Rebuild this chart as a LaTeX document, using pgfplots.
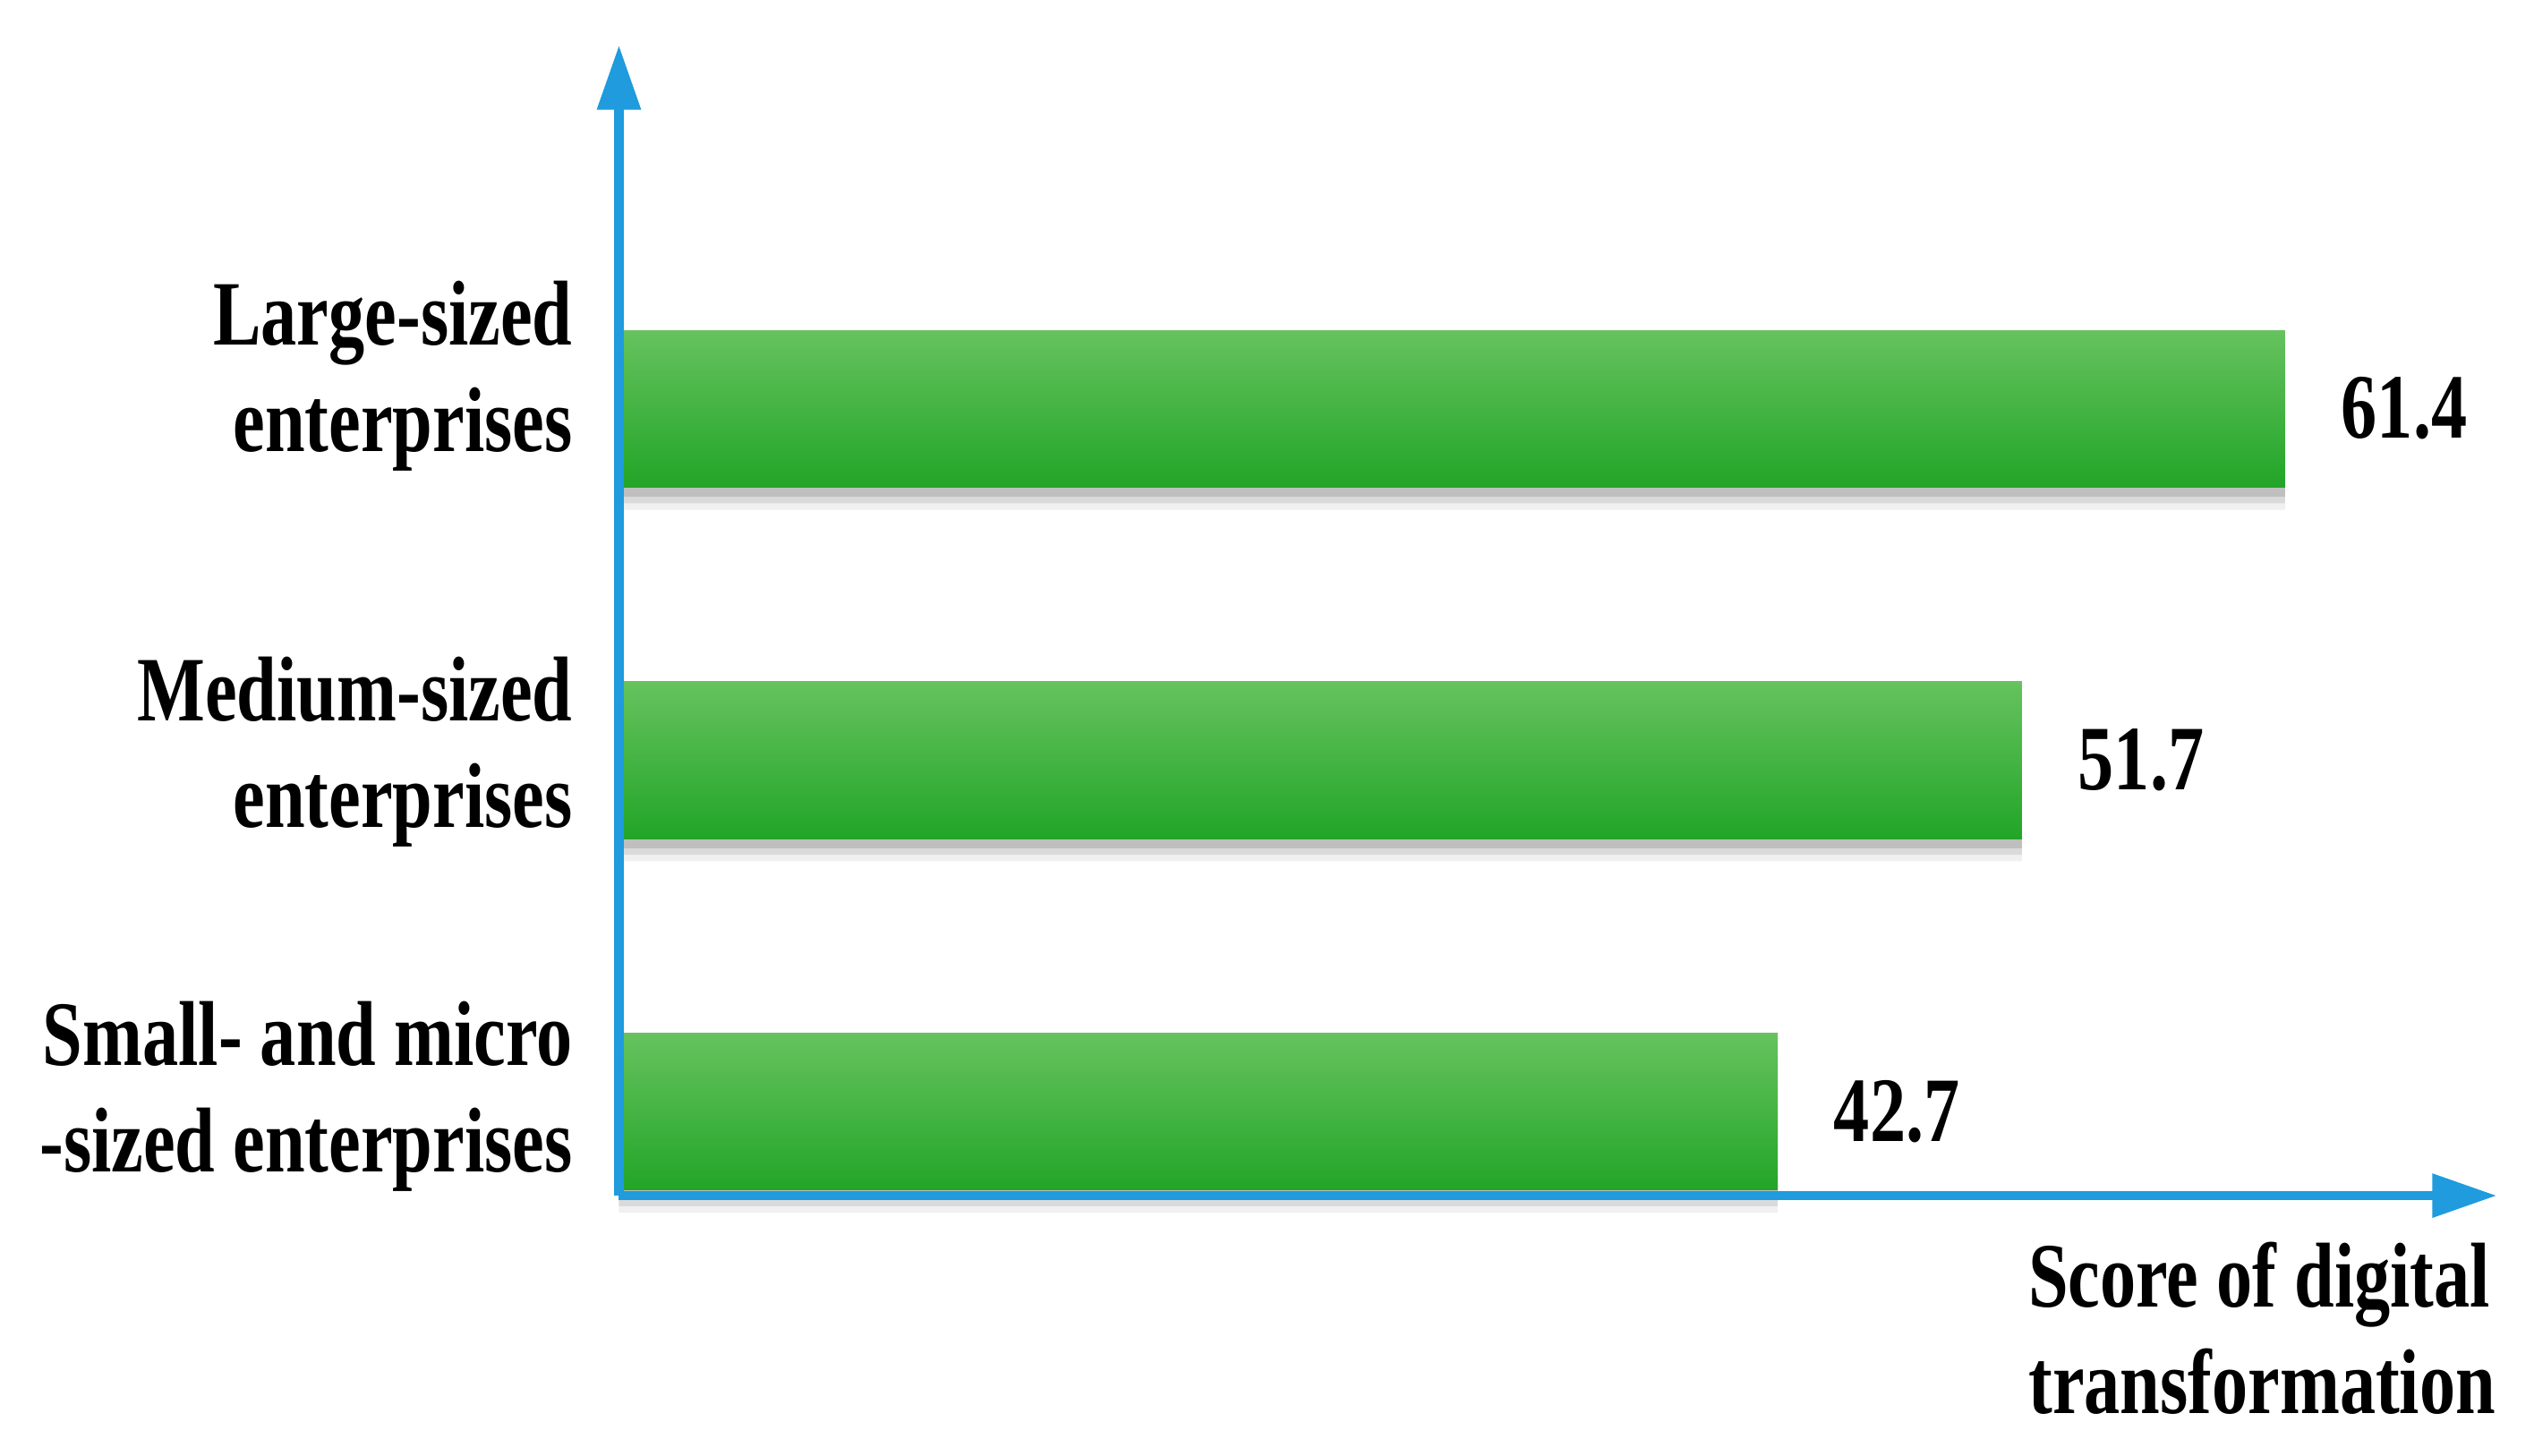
\documentclass[border=0pt]{standalone}
\usepackage{fontspec}
\setmainfont{Liberation Serif}[FakeStretch=0.78]
\usepackage{pgfplots}
\pgfplotsset{compat=1.18}
\usetikzlibrary{arrows.meta}
\definecolor{axblue}{HTML}{1F9BDE}
\definecolor{bartop}{HTML}{66C25E}
\definecolor{barbot}{HTML}{22A528}
\newcommand{\lblfont}{\fontsize{14.25}{16.5}\selectfont\bfseries}

\begin{document}
\begin{tikzpicture}
\begin{axis}[
  at={(0,0)}, anchor=south west,
  scale only axis, width=290.5pt, height=178pt,
  xmin=0, xmax=69.2, ymin=0.761, ymax=4.034,
  clip=false,
  axis lines=left,
  axis line style={axblue, line width=1.4pt, -{Triangle[length=10pt,width=6.5pt]}},
  xtick=\empty,
  ytick={0.989,1.968,3.037},
  yticklabels={{Small- and micro\\-sized enterprises},{Medium-sized\\enterprises},{Large-sized\\enterprises}},
  major tick length=0pt,
  yticklabel style={align=right, inner sep=0pt, xshift=-7pt, yshift=3pt, font=\lblfont},
  xbar, bar width=0.446, bar shift=0pt,
  axis on top,
  every node near coord/.style={anchor=west, inner sep=0pt, xshift=8.5pt, font=\lblfont, text=black},
]
% soft shadow under the bars
\addplot[draw=none, fill=black, fill opacity=0.06, bar shift=-3.5pt] coordinates {(42.7,1) (51.7,2) (61.4,3)};
\addplot[draw=none, fill=black, fill opacity=0.09, bar shift=-2.5pt] coordinates {(42.7,1) (51.7,2) (61.4,3)};
\addplot[draw=none, fill=black, fill opacity=0.12, bar shift=-1.5pt] coordinates {(42.7,1) (51.7,2) (61.4,3)};
% scores of digital transformation, one plot per bar so each gets its own gradient
\addplot[draw=none, top color=bartop, bottom color=barbot,
  nodes near coords={\pgfmathprintnumber[fixed,fixed zerofill,precision=1,assume math mode=true]{\pgfplotspointmeta}}]
  coordinates {(42.7,1)};
\addplot[draw=none, top color=bartop, bottom color=barbot,
  nodes near coords={\pgfmathprintnumber[fixed,fixed zerofill,precision=1,assume math mode=true]{\pgfplotspointmeta}}]
  coordinates {(51.7,2)};
\addplot[draw=none, top color=bartop, bottom color=barbot,
  nodes near coords={\pgfmathprintnumber[fixed,fixed zerofill,precision=1,assume math mode=true]{\pgfplotspointmeta}}]
  coordinates {(61.4,3)};
\node[anchor=north east, align=left, inner sep=0pt, font=\lblfont, yshift=-7pt]
  at (rel axis cs:1,0) {Score of digital\\transformation};
\end{axis}
\pgfresetboundingbox
\path (-95.75pt,-40.25pt) rectangle (296.25pt,185pt);
\end{tikzpicture}
\end{document}
